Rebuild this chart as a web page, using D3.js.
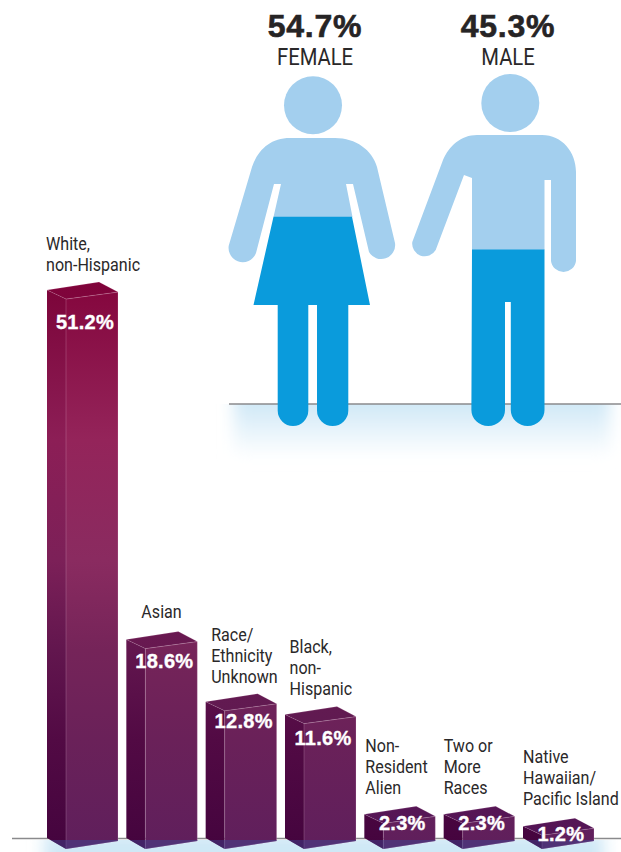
<!DOCTYPE html>
<html>
<head>
<meta charset="utf-8">
<style>
  html, body { margin: 0; padding: 0; background: #fff; }
  svg { display: block; }
  .lbl { font-family: "Roboto", sans-serif; fill: #2a2829; }
  .num { font-family: "Liberation Sans", sans-serif; font-weight: 700; }
</style>
<script src="https://cdn.jsdelivr.net/npm/d3@7/dist/d3.min.js"></script>
</head>
<body>
<svg id="chart" width="621" height="852"></svg>
<script>
// Enrollment by race / ethnicity
const categories = ["White, non-Hispanic", "Asian", "Race/Ethnicity Unknown", "Black, non-Hispanic",
  "Non-Resident Alien", "Two or More Races", "Native Hawaiian/Pacific Island"];
const shares = [51.2, 18.6, 12.8, 11.6, 2.3, 2.3, 1.2];
const categoryLines = [
  ["White,", "non-Hispanic"],
  ["Asian"],
  ["Race/", "Ethnicity", "Unknown"],
  ["Black,", "non-", "Hispanic"],
  ["Non-", "Resident", "Alien"],
  ["Two or", "More", "Races"],
  ["Native", "Hawaiian/", "Pacific Island"]
];

// Enrollment by gender
const genders = ["FEMALE", "MALE"];
const genderShares = [54.7, 45.3];

// Pictogram outlines for the two figures
const figureHeads = [{ cx: 313, cy: 105.3 }, { cx: 510.3, cy: 103 }];
const figureUpper = [
  "M290,138 L335,138 C356,138 372,150 377,167 L395,243 A14,14 0 0 1 369,252 L353,184 L346,184 L352.5,217 L273.5,217 L281,184 L274,184 L256,253 A14,14 0 0 1 229.5,243 L252,167 C258,150 270,138 290,138 Z",
  "M477,135 L542,135 C562,135 576,152 576,172 L576,261 A12.6,12.6 0 0 1 551,261 L551,180 L544.5,180 L544.5,250 L472,250 L472,178 L464,175 L435.7,250 A12.6,12.6 0 0 1 412.3,242 L443,160 C449,146 461,135 477,135 Z"
];
const figureLower = [
  "M273.5,216.7 L352,216.7 L370,305 L348.3,305 L348.3,410.5 A15.6,15.4 0 0 1 317,410.5 L317,305 L308.3,305 L308.3,410.5 A15.3,15.4 0 0 1 277.7,410.5 L277.7,305 L253.5,305 Z",
  "M472,249.5 L544.5,249.5 L544.5,410 A16.8,16 0 0 1 510.8,410 L510.8,302 L505,302 L505,410 A16.8,16 0 0 1 471.4,410 Z"
];

const svg = d3.select("#chart");
const defs = svg.append("defs");

const baseY = 848;
const x = d3.scaleBand().domain(categories).range([47, 594]).paddingInner(0.105);
const y = d3.scaleLinear().domain([0, 51.2]).range([baseY, 299]);

function vGradient(id, y1, y2, stops) {
  const g = defs.append("linearGradient").attr("id", id)
    .attr("gradientUnits", "userSpaceOnUse")
    .attr("x1", 0).attr("x2", 0).attr("y1", y1).attr("y2", y2);
  stops.forEach(([o, c]) => g.append("stop").attr("offset", o).attr("stop-color", c));
}
vGradient("frontFill", 285, 850, [[0, "#84063d"], [0.274, "#94245a"], [0.487, "#8a2b60"], [0.646, "#752459"], [0.805, "#6a2159"], [1, "#5f1f5c"]]);
vGradient("sideFill", 285, 850, [[0, "#7c0439"], [0.274, "#8c1e56"], [0.487, "#7c2058"], [0.646, "#62164e"], [0.805, "#520a44"], [1, "#44043e"]]);
vGradient("topFill", 280, 830, [[0, "#80033a"], [0.6, "#6b1850"], [0.8, "#601a51"], [1, "#541556"]]);

// Soft floor shadows, fading outward from the ground lines
defs.append("filter").attr("id", "soft")
  .attr("x", "-20%").attr("y", "-60%").attr("width", "140%").attr("height", "220%")
  .append("feGaussianBlur").attr("stdDeviation", 8);
defs.append("clipPath").attr("id", "belowUpper").append("rect")
  .attr("x", 0).attr("y", 404).attr("width", 621).attr("height", 80);
defs.append("clipPath").attr("id", "belowLower").append("rect")
  .attr("x", 0).attr("y", 840).attr("width", 621).attr("height", 12);
vGradient("floorFade", 400, 458, [[0, "#cde7f6"], [1, "#ffffff"]]);

svg.append("g").attr("clip-path", "url(#belowUpper)")
  .append("rect").attr("x", 234).attr("y", 388).attr("width", 376).attr("height", 66)
  .attr("fill", "url(#floorFade)").attr("filter", "url(#soft)");

// Ground line under the figures
svg.append("line").attr("x1", 229).attr("x2", 621).attr("y1", 404).attr("y2", 404)
  .attr("stroke", "#8a8a8c").attr("stroke-width", 1.5);

// Figures
const figures = svg.append("g");
figures.selectAll("circle").data(figureHeads).join("circle")
  .attr("cx", d => d.cx).attr("cy", d => d.cy).attr("r", 29).attr("fill", "#a3cfee");
figures.selectAll("path.upper").data(figureUpper).join("path").attr("class", "upper")
  .attr("d", d => d).attr("fill", "#a3cfee");
figures.selectAll("path.lower").data(figureLower).join("path").attr("class", "lower")
  .attr("d", d => d).attr("fill", "#0a9bdc");

// Horizontal squeeze so Roboto sets like a condensed grotesque
const squeezeAt = (px, py, factor) => `translate(${px},${py}) scale(${factor},1)`;

const genderX = [315, 508];
svg.selectAll("text.gshare").data(genderShares).join("text").attr("class", "gshare num")
  .attr("x", (d, i) => genderX[i]).attr("y", 37).attr("text-anchor", "middle")
  .attr("font-size", 32).attr("letter-spacing", 0.8).attr("fill", "#262425")
  .attr("stroke", "#262425").attr("stroke-width", 0.6)
  .text(d => d.toFixed(1) + "%");
svg.selectAll("text.gname").data(genders).join("text").attr("class", "gname lbl")
  .attr("transform", (d, i) => squeezeAt(genderX[i], 65, 0.88)).attr("text-anchor", "middle")
  .attr("font-size", 23).text(d => d);

// Floor shadow under the bars
svg.append("g").attr("clip-path", "url(#belowLower)")
  .append("rect").attr("x", 44).attr("y", 832).attr("width", 560).attr("height", 40)
  .attr("fill", "#cfe8f6").attr("filter", "url(#soft)");

// Ground line under the bars
svg.append("line").attr("x1", 12).attr("x2", 621).attr("y1", 838.5).attr("y2", 838.5)
  .attr("stroke", "#8a8a8c").attr("stroke-width", 1.5);

// Extruded bars: side, front and top faces share the vertical ramps
const sideW = 19, frontW = x.bandwidth() - sideW;
const bars = svg.selectAll("g.bar").data(categories.map((c, i) => ({ c, v: shares[i], i })))
  .join("g").attr("class", "bar");
const poly = pts => "M" + pts.map(p => p.join(",")).join("L") + "Z";
const edge = "rgba(255,225,240,0.28)";

const sidePath = d => {
  const l = x(d.c), r = l + sideW, t = y(d.v);
  return poly([[l, t - 9], [r, t], [r, baseY + 1], [l, baseY - 10]]);
};
const frontPath = d => {
  const r = x(d.c) + sideW, t = y(d.v);
  return poly([[r, t], [r + frontW, t - 7], [r + frontW, baseY - 7], [r, baseY + 1]]);
};
const topPath = d => {
  const l = x(d.c), r = l + sideW, t = y(d.v);
  return poly([[l, t - 9], [r + 33, t - 17], [r + frontW, t - 7], [r, t]]);
};

bars.append("path").attr("fill", "url(#sideFill)").attr("d", sidePath);
bars.append("path").attr("fill", "url(#frontFill)").attr("stroke", edge).attr("stroke-width", 0.7).attr("d", frontPath);
bars.append("path").attr("fill", "url(#topFill)").attr("stroke", edge).attr("stroke-width", 0.5).attr("d", topPath);

// The shadow shows through at the feet of the bars
const feet = bars.append("g").attr("clip-path", "url(#belowLower)");
feet.append("path").attr("d", sidePath).attr("fill", "#3f4a96").attr("opacity", 0.45);
feet.append("path").attr("d", frontPath).attr("fill", "#3f4a96").attr("opacity", 0.45);

// Category captions sit above each bar's back corner
const captionDx = [-1, 15, 5.5, 4.5, 1, 0, 0];
const captionGap = [11, 14, 11, 12, 12, 12, 13];
const lineH = 21;
bars.each(function (d) {
  const lines = categoryLines[d.i];
  const last = y(d.v) - 17 - captionGap[d.i];
  d3.select(this).selectAll("text.cap").data(lines).join("text")
    .attr("class", "cap lbl").attr("font-size", 17.5)
    .attr("transform", (s, k) => squeezeAt(x(d.c) + captionDx[d.i], last - (lines.length - 1 - k) * lineH, 0.92))
    .text(s => s);
});

// Value labels on the front of each bar
const valueDy = [30, 19, 17, 21, 7, 7, 6];
bars.append("text").attr("class", "num").attr("fill", "#fff").attr("stroke", "#fff").attr("stroke-width", 0.35)
  .attr("font-size", 20).attr("letter-spacing", 0.3).attr("text-anchor", "middle")
  .attr("x", d => x(d.c) + 38)
  .attr("y", d => y(d.v) + valueDy[d.i])
  .text(d => d.v.toFixed(1) + "%");
</script>
</body>
</html>
